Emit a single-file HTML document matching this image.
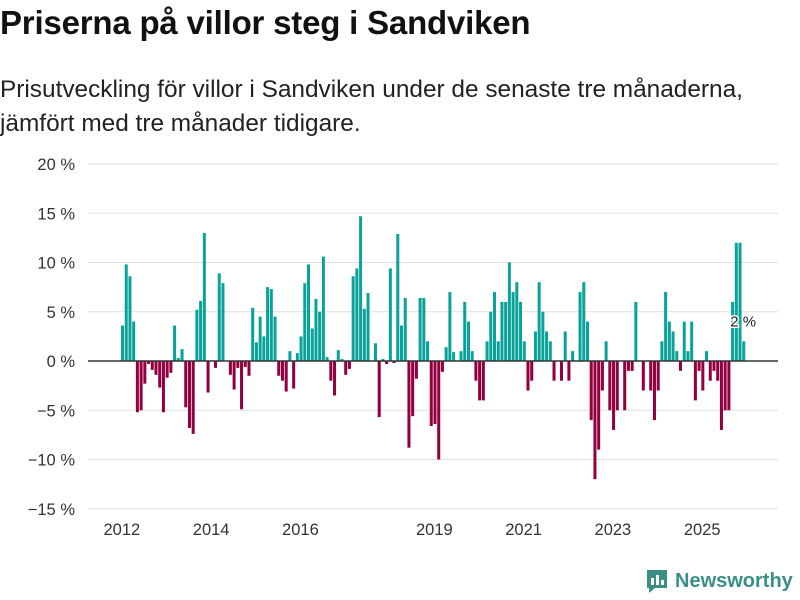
<!DOCTYPE html>
<html><head><meta charset="utf-8">
<style>
body{margin:0;width:800px;height:600px;background:#fff;font-family:"Liberation Sans",sans-serif;overflow:hidden;position:relative}
#title{position:absolute;left:0;top:4px;font-size:33px;font-weight:bold;color:#111;margin:0;white-space:nowrap;letter-spacing:-0.2px}
#sub{position:absolute;left:0;top:73px;font-size:24.4px;line-height:34px;color:#222;white-space:nowrap}
#logo{position:absolute;left:645px;top:568px;display:flex;align-items:center;gap:6px;color:#3a8f84;font-weight:bold;font-size:20px}
</style></head><body>
<h1 id="title">Priserna på villor steg i Sandviken</h1>
<div id="sub">Prisutveckling för villor i Sandviken under de senaste tre månaderna,<br>jämfört med tre månader tidigare.</div>
<svg id="chart" width="800" height="600" style="position:absolute;left:0;top:0" xmlns="http://www.w3.org/2000/svg"></svg>
<div id="logo">
<svg width="24" height="26" viewBox="0 0 24 26"><path d="M2 2h20v18H10l-6 5v-5H2z" fill="#3a8f84"/><rect x="6" y="10" width="3" height="7" fill="#fff"/><rect x="11" y="7" width="3" height="10" fill="#fff"/><rect x="16" y="12" width="3" height="5" fill="#fff"/></svg>
<span>Newsworthy</span></div>
<script>
const startYear = 2012;
const values = [3.6,9.8,8.6,4.0,-5.2,-5.0,-2.3,-0.3,-0.9,-1.4,-2.7,-5.2,
-1.7,-1.2,3.6,0.3,1.2,-4.7,-6.8,-7.4,5.2,6.1,13.0,-3.2,
0,-0.7,8.9,7.9,0,-1.4,-2.9,-0.7,-4.9,-0.6,-1.5,5.4,
1.9,4.5,2.5,7.5,7.3,4.5,-1.5,-2.0,-3.1,1.0,-2.8,0.8,
2.5,7.9,9.8,3.3,6.3,5.0,10.6,0.4,-2.0,-3.5,1.1,0.2,
-1.4,-0.8,8.6,9.4,14.7,5.3,6.9,0,1.8,-5.7,0.2,-0.3,
9.4,-0.2,12.9,3.6,6.4,-8.8,-5.6,-1.8,6.4,6.4,2.0,-6.6,
-6.4,-10.0,-1.1,1.4,7.0,0.9,0,1.0,6.0,4.0,1.0,-2.0,
-4.0,-4.0,2.0,5.0,7.0,2.0,6.0,6.0,10.0,7.0,8.0,6.0,
2.0,-3.0,-2.0,3.0,8.0,5.0,3.0,2.0,-2.0,0,-2.0,3.0,
-2.0,1.0,0,7.0,8.0,4.0,-6.0,-12.0,-9.0,-3.0,2.0,-5.0,
-7.0,-5.0,0,-5.0,-1.0,-1.0,6.0,0,-3.0,0,-3.0,-6.0,
-3.0,2.0,7.0,4.0,3.0,1.0,-1.0,4.0,1.0,4.0,-4.0,-1.0,
-3.0,1.0,-2.0,-1.0,-2.0,-7.0,-5.0,-5.0,6.0,12.0,12.0,2.0];
const yTicks = [20,15,10,5,0,-5,-10,-15];
const yTickLabels = ["20 %","15 %","10 %","5 %","0 %","−5 %","−10 %","−15 %"];
const xTickYears = [2012,2014,2016,2019,2021,2023,2025];
const lastLabel = "2 %";

const NS="http://www.w3.org/2000/svg";
const svg=document.getElementById('chart');
const x0=121, mw=3.72, zeroY=361, pxPer=9.85;
const xs=i=>x0+i*mw;
const ys=v=>zeroY-v*pxPer;
function mk(t,a){const e=document.createElementNS(NS,t);for(const k in a)e.setAttribute(k,a[k]);svg.appendChild(e);return e;}
yTicks.forEach((t,k)=>{
  const g=mk('line',{x1:88,x2:778,y1:ys(t),y2:ys(t),stroke:'#e0e0e0','stroke-width':1});
  
  
  const tx=mk('text',{x:75,y:ys(t)+6,'text-anchor':'end','font-size':16.5,fill:'#333','font-family':'Liberation Sans, sans-serif'});
  tx.textContent=yTickLabels[k];
  
  
});
values.forEach((v,i)=>{
  const top=v>=0?ys(v):zeroY, h=Math.abs(v)*pxPer;
  const r=mk('rect',{x:xs(i),y:top,width:mw-0.7,height:h,fill:v>=0?'#0aa39a':'#94003f'});
  
  
});
const zl=mk('line',{x1:88,x2:778,y1:zeroY,y2:zeroY,stroke:'#333','stroke-width':1.6});


xTickYears.forEach(yr=>{
  const i=(yr-startYear)*12;
  const tx=mk('text',{x:xs(i)+mw/2-1,y:535,'text-anchor':'middle','font-size':16.5,fill:'#333','font-family':'Liberation Sans, sans-serif'});
  tx.textContent=String(yr);
  
  
});
const li=values.length-1;
const lab=mk('text',{x:xs(li)+1,y:ys(values[li])-15,'text-anchor':'middle','font-size':15,fill:'#222',stroke:'#fff','stroke-width':3,'paint-order':'stroke','font-family':'Liberation Sans, sans-serif'});
lab.textContent=lastLabel;


</script>
</body></html>
